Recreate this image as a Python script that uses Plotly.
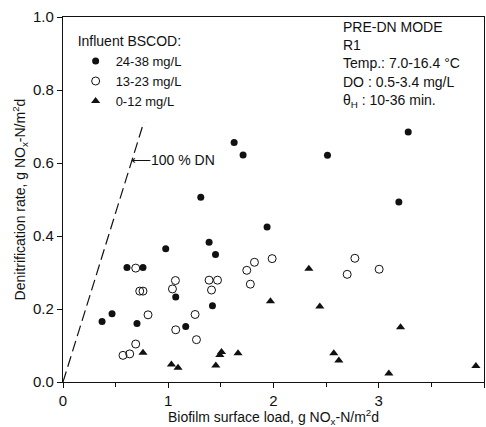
import plotly.graph_objects as go

# 24-38 mg/L (filled circles)
hi_x = [1.626, 1.711, 1.309, 2.513, 3.280, 3.191, 0.371, 0.466, 0.608, 0.760, 0.703, 0.976, 1.071, 1.166, 1.388, 1.449, 1.420, 1.939]
hi_y = [0.656, 0.622, 0.506, 0.621, 0.685, 0.493, 0.166, 0.187, 0.314, 0.314, 0.160, 0.365, 0.233, 0.152, 0.383, 0.349, 0.209, 0.425]

# 13-23 mg/L (open circles)
mid_x = [0.570, 0.634, 0.691, 0.691, 0.729, 0.760, 0.808, 1.068, 1.040, 1.071, 1.255, 1.268, 1.388, 1.468, 1.411, 1.746, 1.780, 1.819, 1.987, 2.773, 2.700, 3.004]
mid_y = [0.073, 0.077, 0.104, 0.312, 0.249, 0.249, 0.184, 0.278, 0.255, 0.143, 0.185, 0.116, 0.279, 0.279, 0.252, 0.306, 0.268, 0.328, 0.338, 0.339, 0.295, 0.309]

# 0-12 mg/L (triangles)
lo_x = [0.760, 1.030, 1.093, 1.452, 1.490, 1.506, 1.663, 1.971, 2.336, 2.440, 2.573, 2.621, 3.096, 3.207, 3.923]
lo_y = [0.080, 0.048, 0.039, 0.045, 0.074, 0.082, 0.079, 0.221, 0.310, 0.207, 0.079, 0.059, 0.023, 0.150, 0.044]

# 100 % DN reference line
dn_x = [0.0, 0.768]
dn_y = [0.0, 0.712]

series_names = ["24-38 mg/L", "13-23 mg/L", "0-12 mg/L"]

FONT = "Liberation Sans, Arial, sans-serif"
INK = "#111111"

fig = go.Figure()
fig.add_trace(go.Scatter(x=dn_x, y=dn_y, mode="lines", showlegend=False,
                         line=dict(color=INK, width=1.2, dash="11px,5px"), hoverinfo="skip"))
fig.add_trace(go.Scatter(x=hi_x, y=hi_y, mode="markers", name=series_names[0],
                         marker=dict(symbol="circle", size=7, color=INK)))
fig.add_trace(go.Scatter(x=mid_x, y=mid_y, mode="markers", name=series_names[1],
                         marker=dict(symbol="circle-open", size=8, color=INK, line=dict(width=1))))
fig.add_trace(go.Scatter(x=lo_x, y=lo_y, mode="markers", name=series_names[2],
                         marker=dict(symbol="triangle-up", size=8, color=INK)))

fig.add_annotation(x=0.627, y=0.608, xref="x", yref="y", xanchor="left", yanchor="middle",
                   text="\u27f5100 % DN", showarrow=False, font=dict(size=14, color=INK, family=FONT))

fig.add_annotation(x=(341 - 63) / 421, y=1.0, xref="paper", yref="paper",
                   xanchor="left", yanchor="top", align="left", showarrow=False,
                   text="PRE-DN MODE<br>R1<br>Temp.: 7.0-16.4 \u00b0C<br>DO : 0.5-3.4 mg/L<br>\u03b8<sub>H</sub> : 10-36 min.",
                   font=dict(size=14, color=INK, family=FONT))

axis_common = dict(showline=True, linecolor=INK, linewidth=1.3, mirror=True, ticks="outside",
                   ticklen=5, tickcolor=INK, showgrid=False, zeroline=False,
                   tickfont=dict(size=15, color=INK, family=FONT))

fig.update_layout(
    width=486, height=427,
    margin=dict(l=63, r=2, t=17, b=45),
    paper_bgcolor="white", plot_bgcolor="white",
    font=dict(family=FONT, color=INK),
    xaxis=dict(range=[0, 4], dtick=1, tick0=0,
               minor=dict(dtick=0.5, ticks="outside", ticklen=4, tickcolor=INK),
               title=dict(text="Biofilm surface load, g NO<sub>x</sub>-N/m<sup>2</sup>d",
                          font=dict(size=14, color=INK, family=FONT), standoff=6),
               **axis_common),
    yaxis=dict(range=[0, 1], dtick=0.2, tickformat=".1f",
               title=dict(text="Denitrification rate, g NO<sub>x</sub>-N/m<sup>2</sup>d",
                          font=dict(size=14, color=INK, family=FONT), standoff=4),
               **axis_common),
    legend=dict(x=0.03, y=0.97, xanchor="left", yanchor="top", bgcolor="rgba(0,0,0,0)",
                title=dict(text="Influent BSCOD:", side="top", font=dict(size=14, color=INK, family=FONT)),
                font=dict(size=13, color=INK, family=FONT), itemwidth=30, tracegroupgap=0),
)

fig.write_html("out.html")
